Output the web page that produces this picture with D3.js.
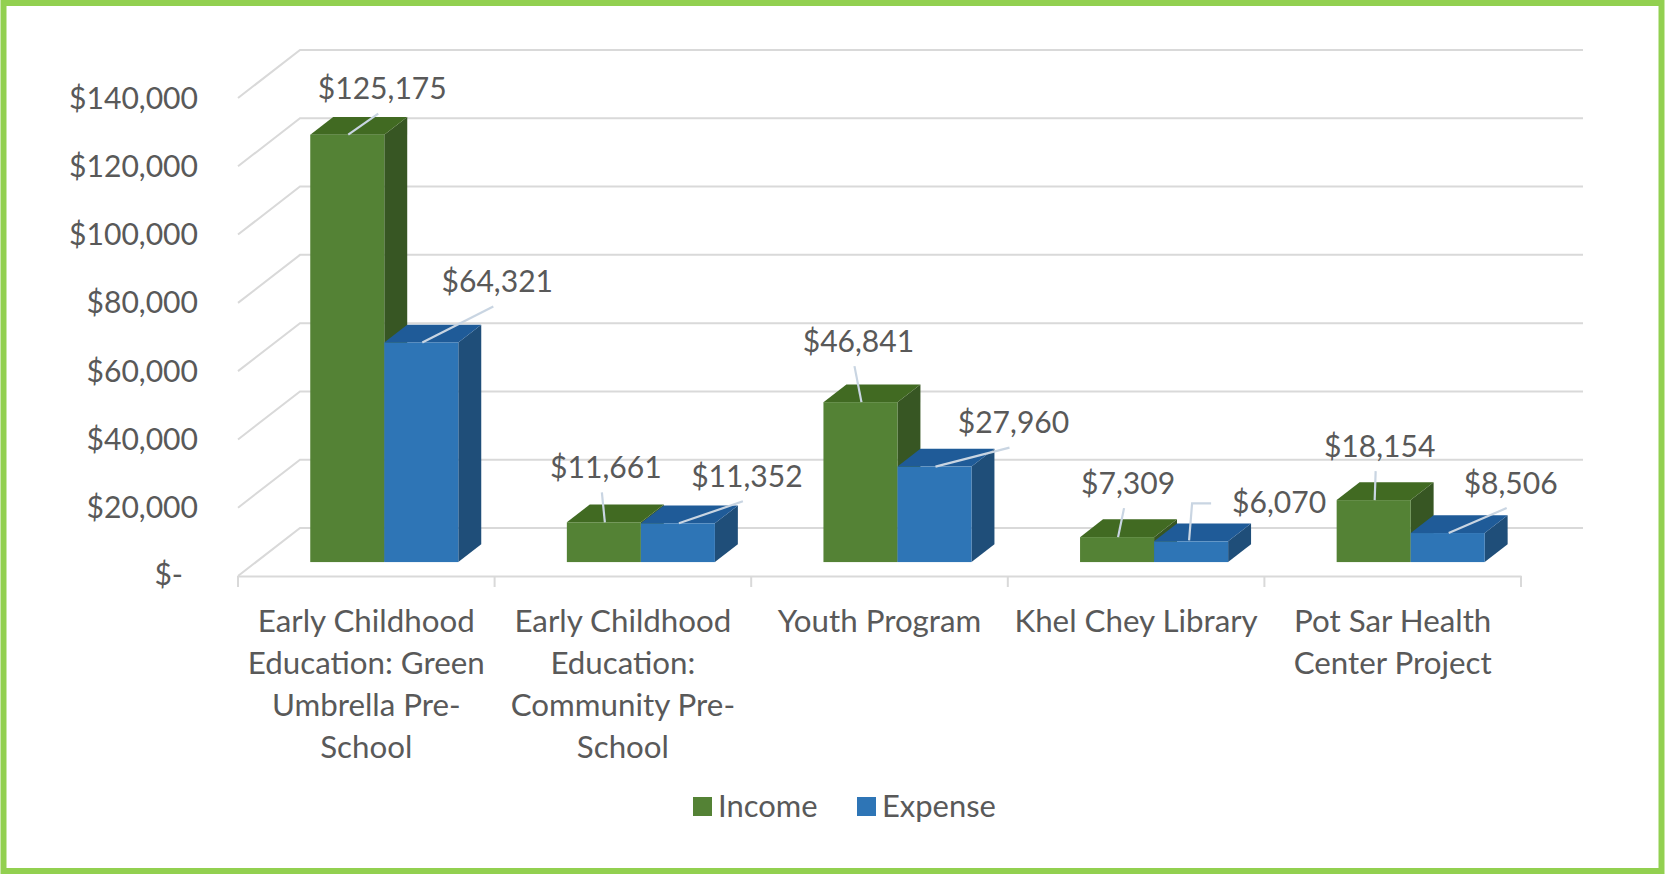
<!DOCTYPE html>
<html><head><meta charset="utf-8">
<script src="https://cdn.jsdelivr.net/npm/d3@7"></script>
<style>body{margin:0;background:#fff}svg{display:block}</style>
</head><body>
<svg id="chart" width="1665" height="874"></svg>
<script>
// ---------- data ----------
const categories = [
  "Early Childhood Education: Green Umbrella Pre-School",
  "Early Childhood Education: Community Pre-School",
  "Youth Program",
  "Khel Chey Library",
  "Pot Sar Health Center Project"
];
const categoryLines = [
  ["Early Childhood", "Education: Green", "Umbrella Pre-", "School"],
  ["Early Childhood", "Education:", "Community Pre-", "School"],
  ["Youth Program"],
  ["Khel Chey Library"],
  ["Pot Sar Health", "Center Project"]
];
const seriesNames = ["Income", "Expense"];
const income  = [125175, 11661, 46841, 7309, 18154];
const expense = [64321, 11352, 27960, 6070, 8506];
const tickValues = [0, 20000, 40000, 60000, 80000, 100000, 120000, 140000];
const tickLabels = ["$-", "$20,000", "$40,000", "$60,000", "$80,000", "$100,000", "$120,000", "$140,000"];

// ---------- layout / style ----------
const FONT = "Lato, 'Open Sans', sans-serif";
const TEXT = "#595959";
const GRID = "#d9d9d9";
const colors = {
  Income:  {front: "#548235", top: "#416a22", side: "#375623"},
  Expense: {front: "#2e75b6", top: "#1f5b98", side: "#1f4e79"}
};
// label offsets (label centre relative to bar's top-front-centre), per series per category
const labelOffsets = {
  Income:  [[35, -46], [2, -55], [-2, -61], [11, -54], [6, -54]],
  Expense: [[76, -61], [69, -47], [79, -44], [88, -39], [63, -50]]
};

const svg = d3.select("#chart");
const W = 1665, H = 874;
const axL = 238, axR = 1521, axY = 576;
const DX = 62, DY = -48;           // depth of the floor
const f0 = 0.29, fd = 0.37;        // bar position/depth as fraction of floor depth

svg.append("rect").attr("width", W).attr("height", H).attr("fill", "#fff");

// measure helper for font fitting
function fitSize(str, target) {
  const t = svg.append("text").attr("font-family", FONT).attr("font-size", 100).text(str);
  const w = t.node().getComputedTextLength();
  t.remove();
  return 100 * target / w;
}
const tickFS = fitSize("$140,000", 129);
const dataFS = fitSize("$125,175", 129);
const catFS  = fitSize("Early Childhood", 217);
const legFS  = fitSize("Expense", 114);

const y = d3.scaleLinear().domain([0, 140000]).range([axY, 98]);
const x = d3.scaleBand().domain(categories).range([axL, axR]);
const groupW = x.bandwidth() * 0.577;
const xs = d3.scaleBand().domain(seriesNames).range([0, groupW]);

// ---------- gridlines (side wall + back wall) ----------
const grid = svg.append("g").attr("fill", "none").attr("stroke", GRID).attr("stroke-width", 2);
grid.selectAll("path").data(tickValues).join("path")
  .attr("d", v => `M${axL},${y(v)} L${axL + DX},${y(v) + DY} L${axR + DX},${y(v) + DY}`);

// front floor axis with ticks
const xAxis = d3.axisBottom(x).tickValues([]).tickSizeOuter(0);
const xg = svg.append("g").attr("transform", `translate(0,${axY})`).call(xAxis);
xg.select(".domain").attr("stroke", GRID).attr("stroke-width", 2);
const boundaries = categories.map(c => x(c)).concat([axR]);
svg.append("g").selectAll("line").data(boundaries).join("line")
  .attr("x1", d => d).attr("x2", d => d).attr("y1", axY).attr("y2", axY + 11)
  .attr("stroke", GRID).attr("stroke-width", 2);

// ---------- y tick labels ----------
svg.append("g").selectAll("text").data(tickValues).join("text")
  .attr("x", v => v === 0 ? 183 : 198)
  .attr("y", v => y(v) + (v === 0 ? 1 : 3))
  .attr("text-anchor", "end").attr("dominant-baseline", "middle")
  .attr("font-family", FONT).attr("font-size", tickFS).attr("fill", TEXT)
  .text((v, i) => tickLabels[i]);

// ---------- bars ----------
const ox = DX * f0, oy = DY * f0, bdx = DX * fd, bdy = DY * fd;
const bars = [];
categories.forEach((c, i) => {
  [["Income", income[i]], ["Expense", expense[i]]].forEach(([s, v]) => {
    const xl = x(c) + (x.bandwidth() - groupW) / 2 + xs(s) + ox;
    const w = xs.bandwidth();
    const yb = y(0) + oy, yt = y(v) + oy;
    bars.push({c, i, s, v, xl, w, yb, yt});
  });
});
const bg = svg.append("g");
bars.forEach(b => {
  const g = bg.append("g");
  const col = colors[b.s];
  g.append("path").attr("fill", col.side)
    .attr("d", `M${b.xl + b.w},${b.yt} L${b.xl + b.w + bdx},${b.yt + bdy} L${b.xl + b.w + bdx},${b.yb + bdy} L${b.xl + b.w},${b.yb}Z`);
  g.append("path").attr("fill", col.top)
    .attr("d", `M${b.xl},${b.yt} L${b.xl + b.w},${b.yt} L${b.xl + b.w + bdx},${b.yt + bdy} L${b.xl + bdx},${b.yt + bdy}Z`);
  g.append("rect").attr("fill", col.front)
    .attr("x", b.xl).attr("y", b.yt).attr("width", b.w).attr("height", b.yb - b.yt);
});

// ---------- data labels with leader lines ----------
const fmt = d3.format("$,");
const lg = svg.append("g");
bars.forEach(b => {
  const ax = b.xl + b.w / 2, ay = b.yt;
  const [odx, ody] = labelOffsets[b.s][b.i];
  const lx = ax + odx, ly = ay + ody;
  let d;
  if (ody > -42) {
    // label beside the bar: elbow leader from label's left side
    const sx = lx - 68;
    d = `M${sx},${ly + 1} L${ax + 1},${ly + 1} L${ax - 2},${ay - 1}`;
  } else {
    d = `M${lx - 4},${ly + 25} L${ax + 1},${ay}`;
  }
  lg.append("path").attr("d", d).attr("fill", "none")
    .attr("stroke", "#c9d5e2").attr("stroke-width", 2.2);
  lg.append("text").attr("x", lx).attr("y", ly + 3).attr("text-anchor", "middle")
    .attr("dominant-baseline", "middle")
    .attr("font-family", FONT).attr("font-size", dataFS).attr("fill", TEXT)
    .text(fmt(b.v));
});

// ---------- category labels ----------
const cg = svg.append("g");
categories.forEach((c, i) => {
  const t = cg.append("text").attr("text-anchor", "middle")
    .attr("font-family", FONT).attr("font-size", catFS).attr("fill", TEXT);
  categoryLines[i].forEach((ln, k) => {
    t.append("tspan").attr("x", x(c) + x.bandwidth() / 2).attr("y", 631.5 + k * 42).text(ln);
  });
});

// ---------- legend ----------
const legendX = [693, 857];
const leg = svg.append("g");
seriesNames.forEach((s, i) => {
  leg.append("rect").attr("x", legendX[i]).attr("y", 797).attr("width", 19).attr("height", 19)
    .attr("fill", colors[s].front);
  leg.append("text").attr("x", legendX[i] + 25).attr("y", 809)
    .attr("dominant-baseline", "middle")
    .attr("font-family", FONT).attr("font-size", legFS).attr("fill", TEXT).text(s);
});

// ---------- outer green border ----------
svg.append("rect").attr("x", 3.5).attr("y", 3).attr("width", W - 7).attr("height", H - 6)
  .attr("fill", "none").attr("stroke", "#92d050").attr("stroke-width", 6);
</script>
</body></html>
